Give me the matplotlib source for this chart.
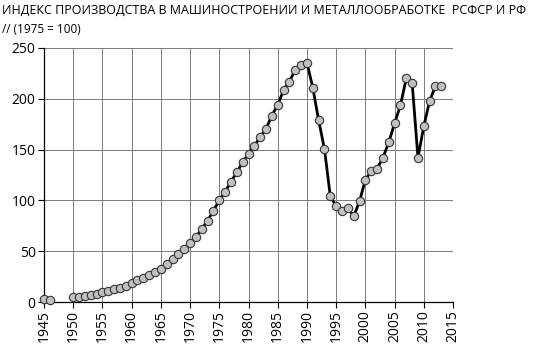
import numpy as np
import matplotlib
matplotlib.use("Agg")
import matplotlib.pyplot as plt

# годы и индекс (1975 = 100)
years = [1945, 1946, 1947, 1948, 1949,
         1950, 1951, 1952, 1953, 1954, 1955, 1956, 1957, 1958, 1959,
         1960, 1961, 1962, 1963, 1964, 1965, 1966, 1967, 1968, 1969,
         1970, 1971, 1972, 1973, 1974, 1975, 1976, 1977, 1978, 1979,
         1980, 1981, 1982, 1983, 1984, 1985, 1986, 1987, 1988, 1989,
         1990, 1991, 1992, 1993, 1994, 1995, 1996, 1997, 1998, 1999,
         2000, 2001, 2002, 2003, 2004, 2005, 2006, 2007, 2008, 2009,
         2010, 2011, 2012, 2013]
index = [2.5, 1.5, np.nan, np.nan, np.nan,
         4.5, 5, 6, 6.5, 7.5, 10, 11, 13, 13.5, 16,
         19, 21.5, 24, 27, 30, 32.5, 37, 42, 47, 52.5,
         58.5, 64, 72, 80, 90, 100, 108.5, 118.5, 127.5, 137.5,
         146, 153.5, 162.5, 170.5, 183.5, 194, 208.5, 217, 228.5, 233.5,
         235.5, 211, 179, 150.5, 104, 94.5, 89.5, 92.5, 84.5, 99,
         120.5, 128.5, 131, 142, 157, 176, 193.5, 220, 216, 142,
         173, 198, 212.5, 212.5]

xticks = list(range(1945, 2016, 5))
yticks = [0, 50, 100, 150, 200, 250]

titulo1 = "ИНДЕКС ПРОИЗВОДСТВА В МАШИНОСТРОЕНИИ И МЕТАЛЛООБРАБОТКЕ  РСФСР И РФ"
titulo2 = "// (1975 = 100)"

plt.rcParams['font.family'] = ['Open Sans', 'DejaVu Sans']

fig = plt.figure(figsize=(5.46, 3.58), dpi=100)
ax = fig.add_axes([0.0806, 0.1564, 0.7491, 0.7096])

ax.plot(years, index, color="black", linewidth=2.0, marker="o",
        markersize=6, markerfacecolor="#c0c0c0", markeredgecolor="#333333",
        markeredgewidth=0.8, zorder=3, clip_on=False)

ax.set_xlim(1945, 2015)
ax.set_ylim(0, 250)
ax.set_xticks(xticks)
ax.set_yticks(yticks)
ax.set_xticklabels([str(t) for t in xticks], rotation=90)
ax.tick_params(axis="both", labelsize=10, length=4, width=0.8, color="black",
               direction="out", pad=2)
ax.grid(True, color="#7a7a7a", linewidth=0.7)
ax.set_axisbelow(True)
for s in ["top", "right"]:
    ax.spines[s].set_visible(False)
for s in ["left", "bottom"]:
    ax.spines[s].set_color("black")
    ax.spines[s].set_linewidth(0.9)
    ax.spines[s].set_zorder(2)

fig.text(0.004, 0.99, titulo1, fontsize=9, ha="left", va="top")
fig.text(0.004, 0.935, titulo2, fontsize=8.5, ha="left", va="top")

plt.savefig("out.png", dpi=100)
